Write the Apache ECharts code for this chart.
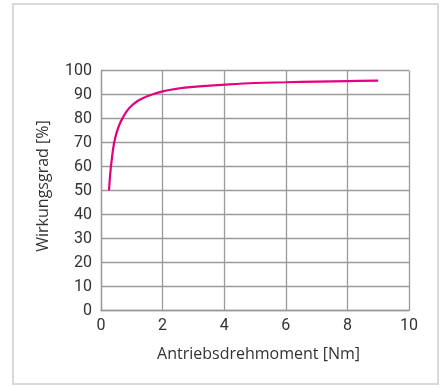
<!DOCTYPE html>
<html><head><meta charset="utf-8">
<script src="https://cdn.jsdelivr.net/npm/echarts@6/dist/echarts.min.js"></script>
<style>html,body{margin:0;padding:0;background:#fff}#c{width:446px;height:387px}</style>
</head><body><div id="c"></div>
<script>
const torque = [0.26, 0.3, 0.35, 0.42, 0.5, 0.6, 0.72, 0.85, 1.0, 1.2, 1.5, 2, 2.5, 3, 4, 5, 6, 7, 8, 9];
const efficiency = [50, 57, 63, 69.5, 73.8, 77.5, 80.6, 83.3, 85.4, 87.4, 89.3, 91.3, 92.5, 93.2, 94.1, 94.8, 95.1, 95.4, 95.6, 95.8];
const xTicks = [0, 2, 4, 6, 8, 10];
const yTicks = [0, 10, 20, 30, 40, 50, 60, 70, 80, 90, 100];
const xName = 'Antriebsdrehmoment [Nm]';
const yName = 'Wirkungsgrad [%]';

const chart = echarts.init(document.getElementById('c'), null, {renderer: 'canvas'});
const font = 'Roboto';
const nameFont = 'Open Sans';
const gridLine = {show: true, lineStyle: {color: '#9a9a9a', width: 1.3}};
chart.setOption({
  animation: false,
  graphic: [{type: 'rect', shape: {x: 13, y: 4, width: 425, height: 380}, style: {fill: 'none', stroke: '#d9d9d9', lineWidth: 2}, z: -1}],
  grid: {left: 101, right: 37, top: 70.5, bottom: 76.5},
  xAxis: {
    type: 'value', min: xTicks[0], max: xTicks[xTicks.length - 1], interval: 2,
    name: xName, nameLocation: 'middle', nameGap: 36,
    nameTextStyle: {fontFamily: nameFont, fontSize: 16, color: '#333', padding: [0, 0, 0, 7]},
    axisLine: {show: true, lineStyle: {color: '#9a9a9a', width: 1.3}},
    axisTick: {show: false},
    axisLabel: {fontFamily: font, fontSize: 16, color: '#333', margin: 7},
    splitLine: gridLine
  },
  yAxis: {
    type: 'value', min: yTicks[0], max: yTicks[yTicks.length - 1], interval: 10,
    name: yName, nameLocation: 'middle', nameGap: 50, nameRotate: 90,
    nameTextStyle: {fontFamily: nameFont, fontSize: 16, color: '#333', padding: [0, 0, 0, 9]},
    axisLine: {show: true, lineStyle: {color: '#9a9a9a', width: 1.3}},
    axisTick: {show: false},
    axisLabel: {fontFamily: font, fontSize: 16, color: '#333', margin: 9},
    splitLine: gridLine
  },
  series: [{
    type: 'line', smooth: 0.4, showSymbol: false,
    data: torque.map((t, i) => [t, efficiency[i]]),
    lineStyle: {color: '#e5007d', width: 2.2}
  }]
});
</script></body></html>
